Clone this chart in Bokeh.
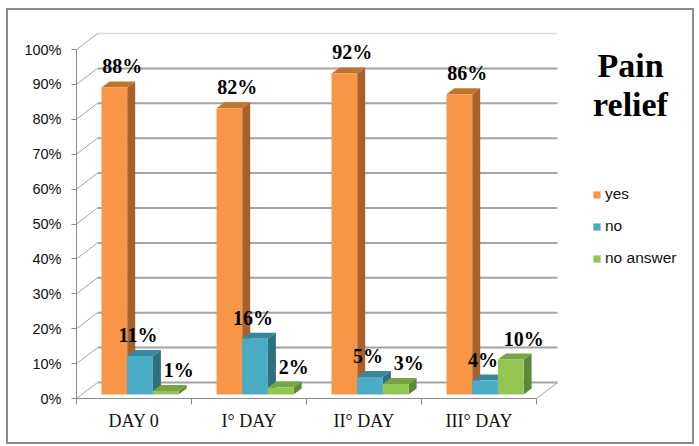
from bokeh.plotting import figure
from bokeh.models import Range1d, FixedTicker, Legend, LegendItem, Label
from bokeh.core.properties import value
from bokeh.embed import file_html
from bokeh.resources import INLINE

categories = ["DAY 0", "I° DAY", "II° DAY", "III° DAY"]
yes = [88, 82, 92, 86]
no = [11, 16, 5, 4]
no_answer = [1, 2, 3, 10]
series_names = ["yes", "no", "no answer"]
y_ticks = [0, 10, 20, 30, 40, 50, 60, 70, 80, 90, 100]

# front, side, top colour of each series
colors = [
    ("#F79646", "#A9612B", "#C0722F"),
    ("#4BACC6", "#2F6F80", "#3B889C"),
    ("#92C552", "#5E8A38", "#76A542"),
]
# horizontal nudge of the value labels, in px
label_nudge = [8, -2, 13]

PX_X = 115.0    # px per category
PX_Y = 3.49     # px per percent

def X(px):
    return px / PX_X

def Y(px):
    return px / PX_Y

DX, DY = X(21), Y(16)          # depth of the walls
BDX, BDY = X(8), Y(6)          # depth of a bar
OFF, W, BASE = X(25), X(25.7), Y(4)

p = figure(width=684, height=432, output_backend="svg", toolbar_location=None,
           x_range=Range1d(0, X(614)), y_range=Range1d(0, Y(370)),
           min_border_left=68, min_border_right=2, min_border_top=18,
           min_border_bottom=44,
           styles={"margin": "10px 0 0 8px", "outline": "2px solid #8c8c8c"})
p.outline_line_color = None
p.grid.visible = False

GRID = "#a3a3a3"
back = y_ticks[:-1]
p.segment(x0=[DX] * len(back), y0=[t + DY for t in back],
          x1=[len(categories) + DX] * len(back), y1=[t + DY for t in back],
          line_color=GRID, line_width=2)
p.segment(x0=[DX], y0=[y_ticks[-1] + DY], x1=[len(categories) + DX],
          y1=[y_ticks[-1] + DY], line_color="#b4b4b4", line_width=1.5,
          line_dash="1 1")
p.segment(x0=[0] * len(y_ticks), y0=y_ticks, x1=[DX] * len(y_ticks),
          y1=[t + DY for t in y_ticks], line_color=GRID, line_width=1)
p.segment(x0=[len(categories)], y0=[0], x1=[len(categories) + DX], y1=[DY],
          line_color=GRID, line_width=1)

legend_items = []
for k, vals in enumerate([yes, no, no_answer]):
    front, side, top = colors[k]
    lefts = [i + OFF + k * W for i in range(len(categories))]
    rights = [l + W for l in lefts]
    tops = [BASE + v for v in vals]
    p.patches(xs=[[r, r + BDX, r + BDX, r] for r in rights],
              ys=[[BASE, BASE + BDY, t + BDY, t] for t in tops],
              fill_color=side, line_color=None)
    p.patches(xs=[[l, l + BDX, r + BDX, r] for l, r in zip(lefts, rights)],
              ys=[[t, t + BDY, t + BDY, t] for t in tops],
              fill_color=top, line_color=None)
    r = p.quad(left=lefts, right=rights, bottom=BASE, top=tops,
               fill_color=front, line_color=None)
    legend_items.append(LegendItem(label=series_names[k], renderers=[r]))
    p.text(x=[l + W / 2 + X(label_nudge[k]) for l in lefts],
           y=[t + Y(21) for t in tops], text=[f"{v}%" for v in vals],
           text_font=value("Liberation Serif"), text_font_style="bold",
           text_font_size="20px", text_align="center",
           text_baseline="alphabetic", text_color="#000000")

ax = p.yaxis[0]
ax.ticker = FixedTicker(ticks=y_ticks)
ax.major_label_overrides = {t: f"{t}%" for t in y_ticks}
ax.bounds = (0, 100)
ax.axis_line_color = "#8a8a8a"
ax.major_tick_line_color = "#8a8a8a"
ax.major_tick_in = 0
ax.major_tick_out = 5
ax.minor_tick_line_color = None
ax.major_label_standoff = 10
ax.major_label_text_font = "Liberation Sans"
ax.major_label_text_font_size = "14.5px"
ax.major_label_text_color = "#111111"

bx = p.xaxis[0]
bx.ticker = FixedTicker(ticks=[i + 0.5 for i in range(len(categories))],
                        minor_ticks=list(range(len(categories) + 1)))
bx.major_label_overrides = {i + 0.5: c for i, c in enumerate(categories)}
bx.bounds = (0, len(categories))
bx.axis_line_color = "#8a8a8a"
bx.major_tick_line_color = None
bx.major_tick_in = 0
bx.major_tick_out = 0
bx.minor_tick_line_color = "#8a8a8a"
bx.minor_tick_in = 0
bx.minor_tick_out = 6
bx.major_label_standoff = 6
bx.major_label_text_font = "Liberation Serif"
bx.major_label_text_font_size = "18px"
bx.major_label_text_color = "#111111"

legend = Legend(items=legend_items, location=(516, 130), padding=0, margin=0,
                border_line_color=None, background_fill_alpha=0,
                glyph_width=9, glyph_height=9, label_height=20, spacing=12,
                label_standoff=4, label_text_font="Liberation Sans",
                label_text_font_size="15.5px", label_text_color="#111111")
p.add_layout(legend)

for txt, py in [("Pain", 65), ("relief", 104)]:
    p.add_layout(Label(x=X(630 - 76), y=Y(398 - py), text=txt,
                       text_font="Liberation Serif", text_font_style="bold",
                       text_font_size="34px", text_align="center",
                       text_baseline="alphabetic", text_color="#000000"))

open("out.html", "w").write(file_html(p, INLINE))
